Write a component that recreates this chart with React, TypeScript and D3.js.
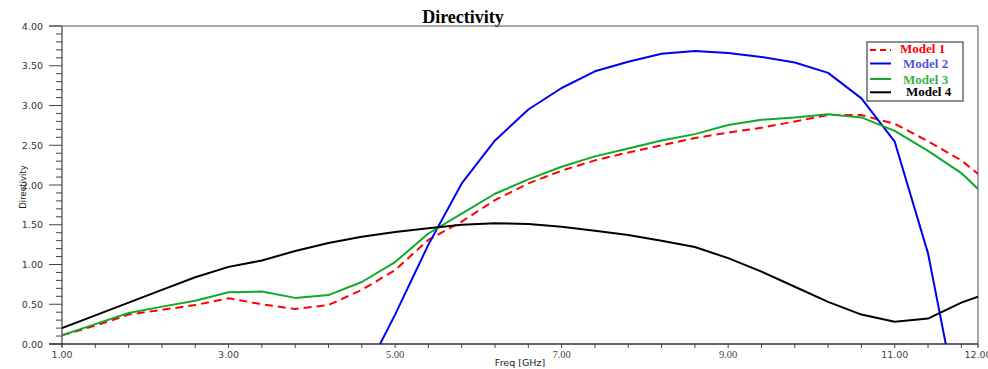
import React from "react";
import * as d3 from "d3";

const freq = [1.0, 1.4, 1.8, 2.2, 2.6, 3.0, 3.4, 3.8, 4.2, 4.6, 5.0, 5.4, 5.8, 6.2, 6.6, 7.0, 7.4, 7.8, 8.2, 8.6, 9.0, 9.4, 9.8, 10.2, 10.6, 11.0, 11.4, 11.8, 12.0];

const model1 = [0.11, 0.23, 0.37, 0.43, 0.49, 0.575, 0.5, 0.44, 0.49, 0.68, 0.93, 1.31, 1.54, 1.81, 2.02, 2.18, 2.31, 2.41, 2.5, 2.59, 2.66, 2.72, 2.8, 2.88, 2.88, 2.77, 2.55, 2.31, 2.14];
const model2 = [null, null, null, null, null, null, null, null, null, -0.45, 0.37, 1.25, 2.02, 2.56, 2.95, 3.22, 3.43, 3.55, 3.65, 3.685, 3.66, 3.61, 3.54, 3.41, 3.09, 2.545, 1.14, -1.0, null];
const model3 = [0.11, 0.25, 0.39, 0.47, 0.545, 0.65, 0.66, 0.58, 0.615, 0.78, 1.03, 1.39, 1.64, 1.89, 2.07, 2.23, 2.36, 2.46, 2.56, 2.64, 2.755, 2.82, 2.85, 2.89, 2.85, 2.68, 2.43, 2.15, 1.95];
const model4 = [0.2, 0.36, 0.52, 0.68, 0.84, 0.97, 1.05, 1.17, 1.27, 1.35, 1.41, 1.455, 1.5, 1.52, 1.51, 1.475, 1.425, 1.37, 1.3, 1.22, 1.08, 0.91, 0.72, 0.53, 0.37, 0.28, 0.32, 0.52, 0.595];

const seriesNames = ["Model 1", "Model 2", "Model 3", "Model 4"];
const xTickLabels = [1, 3, 5, 7, 9, 11, 12];
const yTickLabels = [0, 0.5, 1, 1.5, 2, 2.5, 3, 3.5, 4];

const W = 988, H = 369;
const L = 62, R = 978, T = 26, B = 344;

export default function App() {
  const x = d3.scaleLinear().domain([1, 12]).range([L, R]);
  const y = d3.scaleLinear().domain([0, 4]).range([B, T]);
  const line = d3
    .line<[number, number | null]>()
    .defined((d) => d[1] !== null)
    .x((d) => x(d[0]))
    .y((d) => y(d[1] as number));

  const series = [
    { name: seriesNames[0], values: model1, color: "#ff0000", dash: "8,5", text: "#ff0000" },
    { name: seriesNames[1], values: model2, color: "#0000f0", dash: null, text: "#5555d5" },
    { name: seriesNames[2], values: model3, color: "#0faa2a", dash: null, text: "#3cae50" },
    { name: seriesNames[3], values: model4, color: "#000000", dash: null, text: "#000000" },
  ];

  const xMinor = d3.range(1, 12, 0.4).concat([12]);
  const yMinor = d3.range(0, 41).map((i) => i / 10);

  const legendLineY = [50, 63.5, 79, 92.3];
  const legendTextY = [52.5, 67.5, 83.5, 96];
  const legendTextX = [900, 903, 903, 906];

  return (
    <svg width={W} height={H} style={{ position: "absolute", left: 0, top: 0, background: "#fff" }}>
      <defs>
        <clipPath id="plot">
          <rect x={L} y={T} width={R - L} height={B - T} />
        </clipPath>
      </defs>
      <text x={463} y={23} textAnchor="middle" fontFamily="Liberation Serif" fontWeight="bold" fontSize={18} fill="#000">
        Directivity
      </text>
      {/* frame */}
      <line x1={49} x2={R} y1={T} y2={T} stroke="#555" strokeWidth={1.2} />
      <line x1={R} x2={R} y1={T} y2={B + 3} stroke="#888" strokeWidth={1.5} />
      <line x1={L} x2={L} y1={T} y2={B + 3} stroke="#666" strokeWidth={1.5} />
      <line x1={49} x2={R} y1={B} y2={B} stroke="#333" strokeWidth={1.3} />
      {/* y ticks */}
      {yMinor.map((v, i) => {
        const major = i % 5 === 0;
        return (
          <line key={"ym" + i} x1={major ? 49 : 56} x2={L} y1={y(v)} y2={y(v)} stroke="#444" strokeWidth={1} />
        );
      })}
      {yTickLabels.map((v) => (
        <text key={"yl" + v} x={43} y={y(v) + 3.5} textAnchor="end" fontFamily="DejaVu Sans" fontSize={9.5} fill="#333">
          {v.toFixed(2)}
        </text>
      ))}
      {/* x ticks */}
      {xMinor.map((v, i) => (
        <line key={"xm" + i} x1={x(v)} x2={x(v)} y1={B} y2={B + 4} stroke="#444" strokeWidth={1} />
      ))}
      {xTickLabels.map((v) => (
        <text
          key={"xl" + v}
          x={x(v)}
          y={358}
          textAnchor="middle"
          fontFamily={v === 5 || v === 7 || v === 9 ? "Liberation Serif" : "DejaVu Sans"}
          fontSize={v === 5 || v === 7 || v === 9 ? 10.5 : 9.5}
          fill="#444"
        >
          {v.toFixed(2)}
        </text>
      ))}
      <text x={520} y={366} textAnchor="middle" fontFamily="DejaVu Sans" fontSize={9.5} fill="#222">
        Freq [GHz]
      </text>
      <text
        transform={`translate(26,187) rotate(-90)`}
        textAnchor="middle"
        fontFamily="DejaVu Sans"
        fontSize={8.5}
        fill="#222"
      >
        Directivity
      </text>
      {/* series */}
      <g clipPath="url(#plot)">
        {series.map((s) => (
          <path
            key={s.name}
            d={line(freq.map((f, i) => [f, s.values[i]] as [number, number | null])) || ""}
            fill="none"
            stroke={s.color}
            strokeWidth={2}
            strokeDasharray={s.dash || undefined}
            strokeLinejoin="round"
          />
        ))}
      </g>
      {/* legend */}
      <rect x={867} y={42} width={96} height={59} fill="#fff" stroke="#444" strokeWidth={1.2} />
      {series.map((s, i) => (
        <g key={"lg" + i}>
          <line
            x1={870}
            x2={891}
            y1={legendLineY[i]}
            y2={legendLineY[i]}
            stroke={s.color}
            strokeWidth={2}
            strokeDasharray={s.dash ? "6,4" : undefined}
          />
          <text x={legendTextX[i]} y={legendTextY[i]} fontFamily="Liberation Serif" fontWeight="bold" fontSize={13} fill={s.text}>
            {s.name}
          </text>
        </g>
      ))}
    </svg>
  );
}
